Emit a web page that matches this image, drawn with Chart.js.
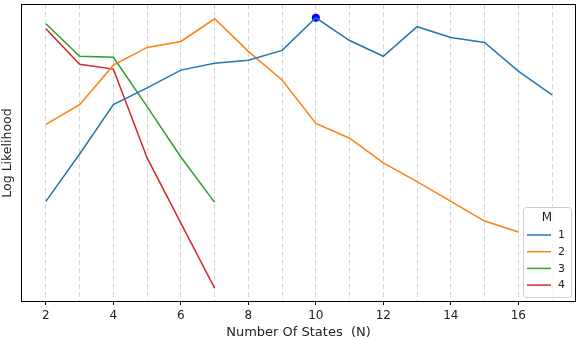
<!DOCTYPE html>
<html>
<head>
<meta charset="utf-8">
<script src="https://cdn.jsdelivr.net/npm/chart.js@4.4.0/dist/chart.umd.min.js"></script>
<style>
  html, body { margin: 0; padding: 0; background: #fff; }
  #wrap { width: 580px; height: 340px; }
</style>
</head>
<body>
<div id="wrap"><canvas id="c" width="580" height="340"></canvas></div>
<script>
// number of hidden states N
const states = [2, 3, 4, 5, 6, 7, 8, 9, 10, 11, 12, 13, 14, 15, 16, 17];
// log likelihood (arbitrary units; no y ticks in the original)
const llM1 = [-200, -152, -102, -85, -67, -60, -57, -47, -14, -37, -53, -23, -34, -39, -68, -92];
const llM2 = [-122, -102, -62, -44, -38, -15, -48, -77, -121, -136, -161, -180, -200, -220, -231];
const llM3 = [-20, -53, -54, -104, -155, -201];
const llM4 = [-25, -61, -66, -156, -222, -288];
const bestN = 10;
const bestLL = -14;
const xTicks = [2, 3, 4, 5, 6, 7, 8, 9, 10, 11, 12, 13, 14, 15, 16, 17];

const seriesNames = ["1", "2", "3", "4"];
const colors = ["#1f77b4", "#ff7f0e", "#2ca02c", "#d62728"];
const font = "DejaVu Sans";

function pts(vals) {
  return vals.map((v, i) => ({ x: states[i], y: v }));
}

const framePlugin = {
  id: "frameAndLegend",
  afterDraw(chart) {
    const { ctx, chartArea: a } = chart;
    ctx.save();
    ctx.strokeStyle = "#000";
    ctx.lineWidth = 1;
    ctx.strokeRect(a.left + 0.5, a.top + 0.5, a.right - a.left - 1, a.bottom - a.top - 1);

    // legend box (lower right, inside axes)
    const bx = 523.5, by = 207.5, bw = 48, bh = 90, r = 3;
    ctx.beginPath();
    ctx.moveTo(bx + r, by);
    ctx.lineTo(bx + bw - r, by);
    ctx.arcTo(bx + bw, by, bx + bw, by + r, r);
    ctx.lineTo(bx + bw, by + bh - r);
    ctx.arcTo(bx + bw, by + bh, bx + bw - r, by + bh, r);
    ctx.lineTo(bx + r, by + bh);
    ctx.arcTo(bx, by + bh, bx, by + bh - r, r);
    ctx.lineTo(bx, by + r);
    ctx.arcTo(bx, by, bx + r, by, r);
    ctx.closePath();
    ctx.fillStyle = "rgba(255,255,255,0.8)";
    ctx.fill();
    ctx.strokeStyle = "#cccccc";
    ctx.stroke();

    ctx.fillStyle = "#222";
    ctx.textAlign = "center";
    ctx.textBaseline = "middle";
    ctx.font = "12px '" + font + "'";
    ctx.fillText("M", 547, 218);
    ctx.textAlign = "left";
    ctx.font = "11px '" + font + "'";
    seriesNames.forEach((name, i) => {
      const y = 235 + i * 16.7;
      ctx.strokeStyle = colors[i];
      ctx.lineWidth = 1.5;
      ctx.beginPath();
      ctx.moveTo(527, y);
      ctx.lineTo(551, y);
      ctx.stroke();
      ctx.fillStyle = "#222";
      ctx.fillText(name, 558, y + 0.5);
    });
    ctx.restore();
  }
};

const datasets = [llM1, llM2, llM3, llM4].map((vals, i) => ({
  label: seriesNames[i],
  data: pts(vals),
  borderColor: colors[i],
  backgroundColor: colors[i],
  borderWidth: 1.5,
  pointRadius: 0,
  tension: 0,
  fill: false
}));
datasets.push({
  label: "best",
  data: [{ x: bestN, y: bestLL }],
  showLine: false,
  pointRadius: 4,
  pointBackgroundColor: "#0000ff",
  pointBorderColor: "#0000ff",
  borderWidth: 0
});

new Chart(document.getElementById("c"), {
  type: "line",
  data: { datasets },
  options: {
    responsive: false,
    animation: false,
    layout: { padding: { left: 0, right: 2, top: 0, bottom: 0 } },
    plugins: { legend: { display: false }, tooltip: { enabled: false } },
    scales: {
      x: {
        type: "linear",
        min: 1.262,
        max: 17.71,
        afterBuildTicks: (s) => { s.ticks = xTicks.map(v => ({ value: v })); },
        afterFit: (s) => { s.height = 38; },
        grid: {
          color: "#d4d4d4",
          lineWidth: 1,
          drawTicks: true,
          tickLength: 3,
          tickColor: (c) => (c.tick && c.tick.value % 2 === 0 ? "#000" : "rgba(0,0,0,0)")
        },
        border: { display: false, dash: [5, 3] },
        ticks: {
          autoSkip: false,
          maxRotation: 0,
          padding: 4,
          color: "#222",
          font: { family: font, size: 12 },
          callback: (v) => (v % 2 === 0 ? String(v) : "")
        },
        title: {
          display: true,
          text: "Number Of States  (N)",
          color: "#222",
          padding: 0,
          font: { family: font, size: 13 }
        }
      },
      y: {
        min: -302,
        max: 0,
        afterFit: (s) => { s.width = 21; },
        grid: { display: false },
        border: { display: false },
        ticks: { display: false },
        title: {
          display: true,
          text: "Log Likelihood",
          color: "#222",
          padding: 0,
          font: { family: font, size: 12.5 }
        }
      }
    }
  },
  plugins: [framePlugin]
});
</script>
</body>
</html>
